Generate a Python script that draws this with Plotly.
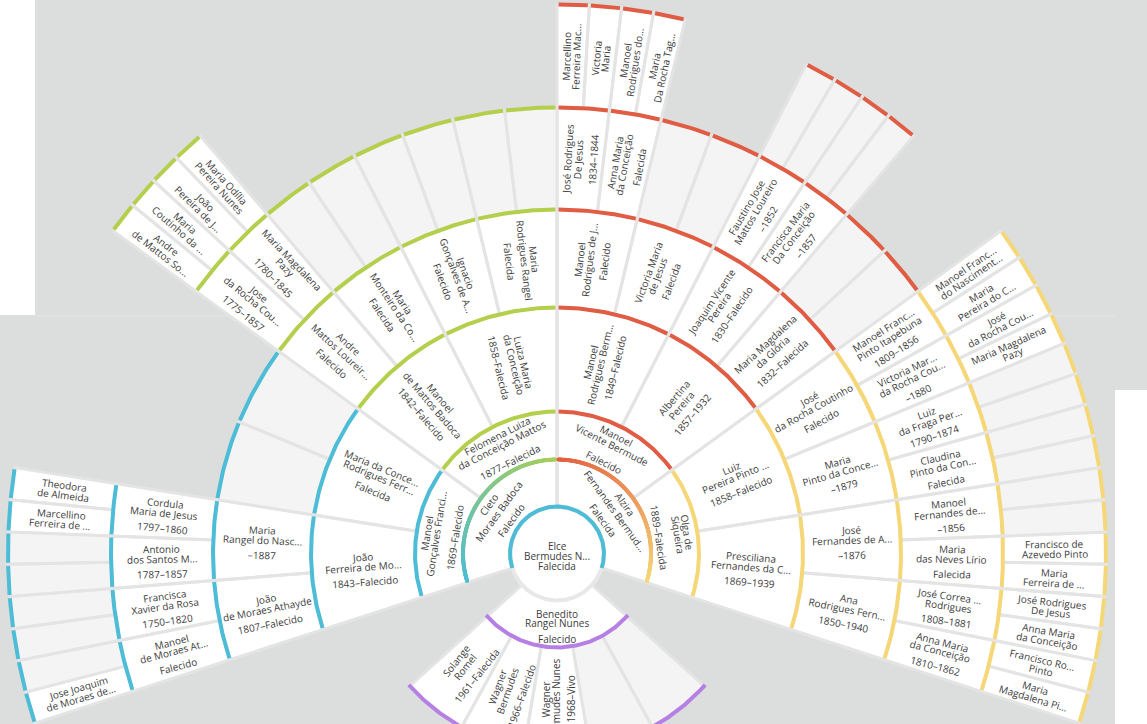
import numpy as np
import plotly.graph_objects as go

W, H = 1147, 724
CX, CY = 557, 553.5            # центр веера в пикселях

# границы колец: центр, родители, деды, прадеды ...
RINGS = [47, 94, 142, 246, 344, 446, 549]
FAN_START, FAN_END = 198.0, -18.0      # предки
DESC_START, DESC_END = 222.0, 318.0    # потомки
CHILD_R = 198

root = ("Elce", "Bermudes N...", "Falecida")

gen1 = [("Cleto", "Moraes Badoca", "Falecido"),
        ("Alzira", "Fernandes Bermud...", "Falecida")]

gen2 = [("Manoel", "Gonçalves Franci...", "1869–Falecido"),
        ("Felomena Luiza", "da Conceição Mattos", "1877–Falecida"),
        ("Manoel", "Vicente Bermude", "Falecido"),
        ("Olga de", "Siqueira", "1889–Falecida")]

gen3 = [("João", "Ferreira de Mo...", "1843–Falecido"),
        ("Maria da Conce...", "Rodrigues Ferr...", "Falecida"),
        ("Manoel", "de Mattos Badoca", "1842–Falecido"),
        ("Luiza Maria", "da Conceição", "1858–Falecida"),
        ("Manoel", "Rodrigues Berm...", "1849–Falecido"),
        ("Albertina", "Pereira", "1857–1932"),
        ("Luiz", "Pereira Pinto ...", "1858–Falecido"),
        ("Presciliana", "Fernandes da C...", "1869–1939")]

gen4 = [("João", "de Moraes Athayde", "1807–Falecido"),
        ("Maria", "Rangel do Nasc...", "–1887"),
        None, None,
        ("Andre", "Mattos Loureir...", "Falecido"),
        ("Maria", "Monteiro da Co...", "Falecida"),
        ("Ignacio", "Gonçalves de A...", "Falecido"),
        ("Maria", "Rodrigues Rangel", "Falecida"),
        ("Manoel", "Rodrigues de J...", "Falecido"),
        ("Victoria Maria", "de Jesus", "Falecida"),
        ("Joaquim Vicente", "Pereira", "1830–Falecido"),
        ("Maria Magdalena", "da Glória", "1832–Falecida"),
        ("José", "da Rocha Coutinho", "Falecido"),
        ("Maria", "Pinto da Conce...", "–1879"),
        ("José", "Fernandes de A...", "–1876"),
        ("Ana", "Rodrigues Fern...", "1850–1940")]

gen5 = [("Manoel", "de Moraes At...", "Falecido"),
        ("Francisca", "Xavier da Rosa", "1750–1820"),
        ("Antonio", "dos Santos M...", "1787–1857"),
        ("Cordula", "Maria de Jesus", "1797–1860"),
        None, None, None, None,
        ("Jose", "da Rocha Cou...", "1775–1857"),
        ("Maria Magdalena", "Pazy", "1780–1845"),
        None, None, None, None, None, None,
        ("José Rodrigues", "De Jesus", "1834–1844"),
        ("Anna Maria", "da Conceição", "Falecida"),
        None, None,
        ("Faustino Jose", "Mattos Loureiro", "–1852"),
        ("Francisca Maria", "Da Conceição", "–1857"),
        None, None,
        ("Manoel Franc...", "Pinto Itapebuna", "1809–1856"),
        ("Victoria Mar...", "da Rocha Cou...", "–1880"),
        ("Luiz", "da Fraga Per...", "1790–1874"),
        ("Claudina", "Pinto da Con...", "Falecida"),
        ("Manoel", "Fernandes de...", "–1856"),
        ("Maria", "das Neves Lírio", "Falecida"),
        ("José Correa ...", "Rodrigues", "1808–1881"),
        ("Anna Maria", "da Conceição", "1810–1862")]

gen6 = [
    # голубая ветвь
    ("Jose Joaquim", "de Moraes de..."), None, None, None, None, None,
    ("Marcellino", "Ferreira de ..."), ("Theodora", "de Almeida"),
    None, None, None, None, None, None, None, None,
    # зелёная
    ("Andre", "de Mattos So..."), ("Maria", "Coutinho da ..."),
    ("João", "Pereira de J..."), ("Maria Odília", "Pereira Nunes"),
    None, None, None, None, None, None, None, None, None, None, None, None,
    # красная
    ("Marcellino", "Ferreira Mac..."), ("Victoria", "Maria"),
    ("Manoel", "Rodrigues do..."), ("Maria", "Da Rocha Tag..."),
    None, None, None, None, None, None, None, None, None, None, None, None,
    # жёлтая
    ("Manoel Franc...", "do Nasciment..."), ("Maria", "Pereira do C..."),
    ("José", "da Rocha Cou..."), ("Maria Magdalena", "Pazy"),
    None, None, None, None, None, None,
    ("Francisco de", "Azevedo Pinto"), ("Maria", "Ferreira de ..."),
    ("José Rodrigues", "De Jesus"), ("Anna Maria", "da Conceição"),
    ("Francisco Ro...", "Pinto"), ("Maria", "Magdalena Pi..."),
]

spouse = ("Benedito", "Rangel Nunes", "Falecido")
children = [("Solange", "Romel", "1961–Falecida"),
            ("Wagner", "Bermudes", "1966–Falecido"),
            ("Wagner", "Bermudes Nunes", "1968–Vivo"),
            None, None]

BRANCH_COLORS = ["#4dbcd6", "#b4cf4c", "#e05c43", "#f6d778"]
PURPLE = "#b57fe4"
BG = "#dcdddd"
EMPTY = "#f4f4f4"
DIVIDER = "#e4e4e4"
TEXT = "#3c3c3c"


def arc_pts(a1, a2, r, step=0.4):
    n = max(int(abs(a1 - a2) / step), 2)
    t = np.radians(np.linspace(a1, a2, n + 1))
    return list(r * np.cos(t)), list(r * np.sin(t))


def wedge(a1, a2, r0, r1):
    xo, yo = arc_pts(a1, a2, r1)
    xi, yi = arc_pts(a2, a1, r0)
    return xo + xi + [xo[0], None], yo + yi + [yo[0], None]


def arc_gap(a1, a2, r, gap=1.6):
    d = np.degrees(gap / r)
    xs, ys = arc_pts(a1 - d, a2 + d, r)
    return xs + [None], ys + [None]


def rotation(theta, style):
    if style == "tan":
        return theta - 90 if theta < 180 else theta - 270
    t = (theta + 90) % 360 - 90
    return t if -90 < t <= 90 else t - 180


annotations = []


def add_label(r, theta, lines, style, offsets=None, shift=(0, 0)):
    phi = rotation(theta, style)
    p = np.radians(phi)
    down = np.array([np.sin(p), -np.cos(p)])
    t = np.radians(theta)
    c = np.array([r * np.cos(t), r * np.sin(t)]) + np.array(shift)
    if offsets is None:
        offsets = [-12, -2, 13] if len(lines) == 3 else [-5, 5]
    for txt, off in zip(lines, offsets):
        x, y = c + off * down
        annotations.append(dict(x=x, y=y, xref="x", yref="y", text=txt, showarrow=False,
                                xanchor="center", yanchor="middle", textangle=-phi,
                                font=dict(family="Open Sans", size=10, color=TEXT)))


white = ([], [])
grey = ([], [])
arcs = {c: ([], []) for c in BRANCH_COLORS + [PURPLE]}

gens = [gen1, gen2, gen3, gen4, gen5, gen6]
for g, people in enumerate(gens, start=1):
    n = 2 ** g
    step = (FAN_START - FAN_END) / n
    r0, r1 = RINGS[g - 1], RINGS[g]
    for i, person in enumerate(people):
        if g > 1 and gens[g - 2][i // 2] is None:
            continue
        a1 = FAN_START - i * step
        a2 = a1 - step
        xs, ys = wedge(a1, a2, r0, r1)
        target = white if person else grey
        target[0].extend(xs)
        target[1].extend(ys)
        if g >= 2:
            col = BRANCH_COLORS[i // (n // 4)]
            ax, ay = arc_gap(a1, a2, r1)
            arcs[col][0].extend(ax)
            arcs[col][1].extend(ay)
        if person:
            style = "tan" if g <= 2 else "rad"
            offs = None
            if g == 1:
                offs = [-13, -1, 14]
            elif g == 2:
                offs = [-14, -4, 15]
            add_label((r0 + r1) / 2, (a1 + a2) / 2, person, style, offs)

# супруг и дети
xs, ys = wedge(DESC_START, DESC_END, RINGS[0], RINGS[1])
white[0].extend(xs)
white[1].extend(ys)
ax, ay = arc_gap(DESC_START, DESC_END, RINGS[1])
arcs[PURPLE][0].extend(ax)
arcs[PURPLE][1].extend(ay)
add_label((RINGS[0] + RINGS[1]) / 2, 270, spouse, "tan", [-10, -1, 15])

cstep = (DESC_END - DESC_START) / len(children)
for i, child in enumerate(children):
    a1 = DESC_START + i * cstep
    a2 = a1 + cstep
    xs, ys = wedge(a1, a2, RINGS[1], CHILD_R)
    target = white if child else grey
    target[0].extend(xs)
    target[1].extend(ys)
    ax, ay = arc_gap(a1, a2, CHILD_R)
    arcs[PURPLE][0].extend(ax)
    arcs[PURPLE][1].extend(ay)
    if child:
        add_label((RINGS[1] + CHILD_R) / 2, (a1 + a2) / 2, child, "rad")

fig = go.Figure()
for (px, py), fillc in [(white, "#ffffff"), (grey, EMPTY)]:
    fig.add_trace(go.Scatter(x=px, y=py, mode="lines", fill="toself", fillcolor=fillc,
                             line=dict(color=DIVIDER, width=3), hoverinfo="skip"))

for col, (px, py) in arcs.items():
    fig.add_trace(go.Scatter(x=px, y=py, mode="lines", line=dict(color=col, width=4),
                             hoverinfo="skip"))


# градиентные дуги у родителей
def mix(c1, c2, f):
    a = np.array([int(c1[k:k + 2], 16) for k in (1, 3, 5)])
    b = np.array([int(c2[k:k + 2], 16) for k in (1, 3, 5)])
    v = (a + (b - a) * f).astype(int)
    return "rgb(%d,%d,%d)" % tuple(v)


gx, gy, gc = [], [], []
half = (FAN_START - FAN_END) / 2
for a1, c1, c2 in [(FAN_START, "#4dbcd6", "#a8cf58"), (FAN_START - half, "#e25e42", "#f6d778")]:
    d = np.degrees(1.6 / RINGS[1])
    ang = np.linspace(a1 - d, a1 - half + d, 260)
    for k, a in enumerate(ang):
        gx.append(RINGS[1] * np.cos(np.radians(a)))
        gy.append(RINGS[1] * np.sin(np.radians(a)))
        gc.append(mix(c1, c2, k / (len(ang) - 1)))
fig.add_trace(go.Scatter(x=gx, y=gy, mode="markers", hoverinfo="skip",
                         marker=dict(size=4, color=gc, line=dict(width=0))))

# центральный круг
cx_, cy_ = arc_pts(0, 360, RINGS[0])
fig.add_trace(go.Scatter(x=cx_, y=cy_, mode="lines", fill="toself", fillcolor="#ffffff",
                         line=dict(color="#e8e8e8", width=4), hoverinfo="skip"))
ax, ay = arc_pts(FAN_START, FAN_END, RINGS[0])
fig.add_trace(go.Scatter(x=ax, y=ay, mode="lines", line=dict(color="#4dbcd6", width=4),
                         hoverinfo="skip"))
add_label(0, 90, root, "tan", [-10, 0, 10], shift=(0, -2))

fig.update_layout(
    width=W, height=H,
    margin=dict(l=0, r=0, t=0, b=0),
    paper_bgcolor=BG, plot_bgcolor="rgba(0,0,0,0)",
    showlegend=False,
    xaxis=dict(range=[-CX, W - CX], visible=False, fixedrange=True),
    yaxis=dict(range=[-(H - CY), CY], visible=False, fixedrange=True),
    annotations=annotations,
    shapes=[
        dict(type="rect", xref="paper", yref="paper", x0=0, x1=35 / W, y0=1 - 315 / H, y1=1,
             fillcolor="#ffffff", line=dict(width=0), layer="below"),
        dict(type="rect", xref="paper", yref="paper", x0=1115 / W, x1=1, y0=0, y1=1 - 390 / H,
             fillcolor="#ffffff", line=dict(width=0), layer="below"),
        dict(type="line", xref="paper", yref="paper", x0=35 / W, x1=1115 / W,
             y0=1 - 316 / H, y1=1 - 316 / H, line=dict(color="#e6e6e6", width=1), layer="below"),
    ],
)

# убрать стандартный отступ страницы, чтобы рисунок начинался с угла окна
fig.write_html("out.html", config={"displayModeBar": False},
               post_script="document.body.style.margin='0';")
